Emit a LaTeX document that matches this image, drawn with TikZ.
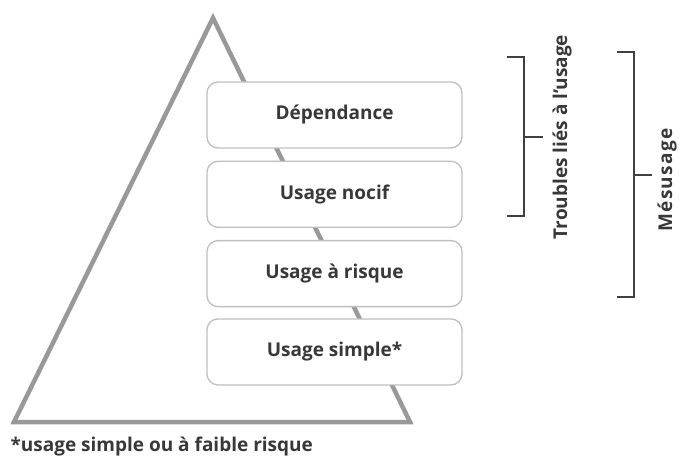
\documentclass[tikz,border=0pt]{standalone}
\usepackage{fontspec}
\setmainfont{Open Sans}
\usetikzlibrary{positioning}

\begin{document}
\begin{tikzpicture}[x=1pt, y=-1pt, align=center, node distance=12pt,
	main/.style = {draw=gray!50, line width=1.3pt, rounded corners=11pt, fill=white, minimum width=255pt, minimum height=66pt, font=\fontsize{19}{22}\selectfont\bfseries, text=black!78},
	pyr/.style = {draw=gray!80, line width=4.5pt},
	brack/.style = {draw=black!75, line width=1.8pt},
	lab/.style = {rotate=90, font=\fontsize{19}{22}\selectfont\bfseries, text=black!78}]
	\useasboundingbox (0,0) rectangle (679,462);
	% pyramide
	\coordinate (top) at (213,18);
	\coordinate (bl) at (14,422);
	\coordinate (br) at (410,422);
	\draw[pyr] (top) -- (bl) -- (br) -- cycle;
	% niveaux
	\node[main] (1) at (334.5,115) {Dépendance};
	\node[main] (2) [below = of 1] {Usage nocif};
	\node[main] (3) [below = of 2] {Usage à risque};
	\node[main] (4) [below = 11pt of 3] {Usage simple*};
	% accolades
	\coordinate (t1) at (507,57);
	\coordinate (b1) at (507,216);
	\coordinate (m1) at (524,137);
	\coordinate (t2) at (617,52);
	\coordinate (b2) at (617,297);
	\coordinate (m2) at (634,175);
	\draw[brack] (t1) -| (m1) |- (b1);
	\draw[brack] (m1) -- ++(19,0);
	\draw[brack] (t2) -| (m2) |- (b2);
	\draw[brack] (m2) -- ++(18,0);
	\node[lab] (tr) at (562,137) {Troubles liés à l'usage};
	\node[lab, inner sep=1pt] (me) at (667,180) {\addfontfeatures{LetterSpace=7}Mésusage};
	% note
	\node[anchor=west, font=\fontsize{19}{22}\selectfont\bfseries, text=black!78] (note) at (7,447) {*usage simple ou à faible risque};
\end{tikzpicture}
\end{document}
